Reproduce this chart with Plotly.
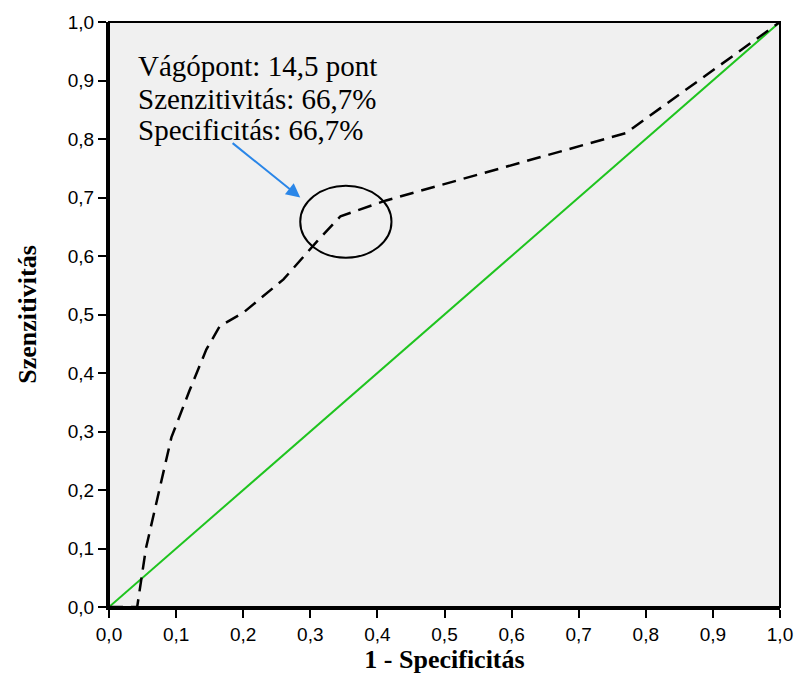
import plotly.graph_objects as go

# ROC curve (1 - specificity, sensitivity)
roc_x = [0.0, 0.042, 0.055, 0.075, 0.093, 0.12, 0.145, 0.165, 0.20, 0.26, 0.31, 0.345, 0.413, 0.77, 1.0]
roc_y = [0.0, 0.0, 0.10, 0.20, 0.29, 0.37, 0.44, 0.48, 0.503, 0.56, 0.625, 0.668, 0.695, 0.81, 1.0]
ref_x = [0.0, 1.0]
ref_y = [0.0, 1.0]
ticks = [0.0, 0.1, 0.2, 0.3, 0.4, 0.5, 0.6, 0.7, 0.8, 0.9, 1.0]
tick_labels = ["0,0", "0,1", "0,2", "0,3", "0,4", "0,5", "0,6", "0,7", "0,8", "0,9", "1,0"]
note_lines = ["Vágópont: 14,5 pont", "Szenzitivitás: 66,7%", "Specificitás: 66,7%"]
note_y = [0.924, 0.869, 0.815]

fig = go.Figure()
fig.add_trace(go.Scatter(x=ref_x, y=ref_y, mode="lines",
                         line=dict(color="#1fc41f", width=2), showlegend=False))
fig.add_trace(go.Scatter(x=roc_x, y=roc_y, mode="lines",
                         line=dict(color="black", width=2.5, dash="14px,8px"),
                         showlegend=False))

# circle around cut-off point
fig.add_shape(type="circle", xref="x", yref="y", x0=0.285, x1=0.421, y0=0.597, y1=0.720,
              line=dict(color="black", width=2))

# frame top/right
fig.add_shape(type="rect", xref="paper", yref="paper", x0=0, x1=1, y0=0, y1=1,
              line=dict(color="black", width=2))

for line_text, yy in zip(note_lines, note_y):
    fig.add_annotation(x=0.04, y=yy, xref="x", yref="y", xanchor="left", yanchor="middle",
                       text=line_text, showarrow=False, align="left",
                       font=dict(family="Liberation Serif, Times New Roman, serif", size=29, color="black"))

fig.add_annotation(x=0.285, y=0.70, ax=0.182, ay=0.795, xref="x", yref="y", axref="x", ayref="y",
                   text="", showarrow=True, arrowhead=2, arrowsize=1.4, arrowwidth=2,
                   arrowcolor="#2a86e8")

axis_common = dict(range=[0, 1], tickvals=ticks, ticktext=tick_labels, showgrid=False,
                   zeroline=False, showline=True, linecolor="black", linewidth=3,
                   ticks="outside", ticklen=8, tickwidth=2, tickcolor="black",
                   tickfont=dict(family="Liberation Sans, Arial, sans-serif", size=19, color="black"))

fig.update_xaxes(**axis_common,
                 title=dict(text="<b>1 - Specificitás</b>", standoff=4,
                            font=dict(family="Liberation Serif, Times New Roman, serif", size=26, color="black")))
fig.update_yaxes(**axis_common,
                 title=dict(text="<b>Szenzitivitás</b>", standoff=24,
                            font=dict(family="Liberation Serif, Times New Roman, serif", size=26, color="black")))

fig.update_layout(width=805, height=692, margin=dict(l=109, r=16, t=17, b=85),
                  paper_bgcolor="white", plot_bgcolor="#f0f0f0")

fig.write_html("out.html")
